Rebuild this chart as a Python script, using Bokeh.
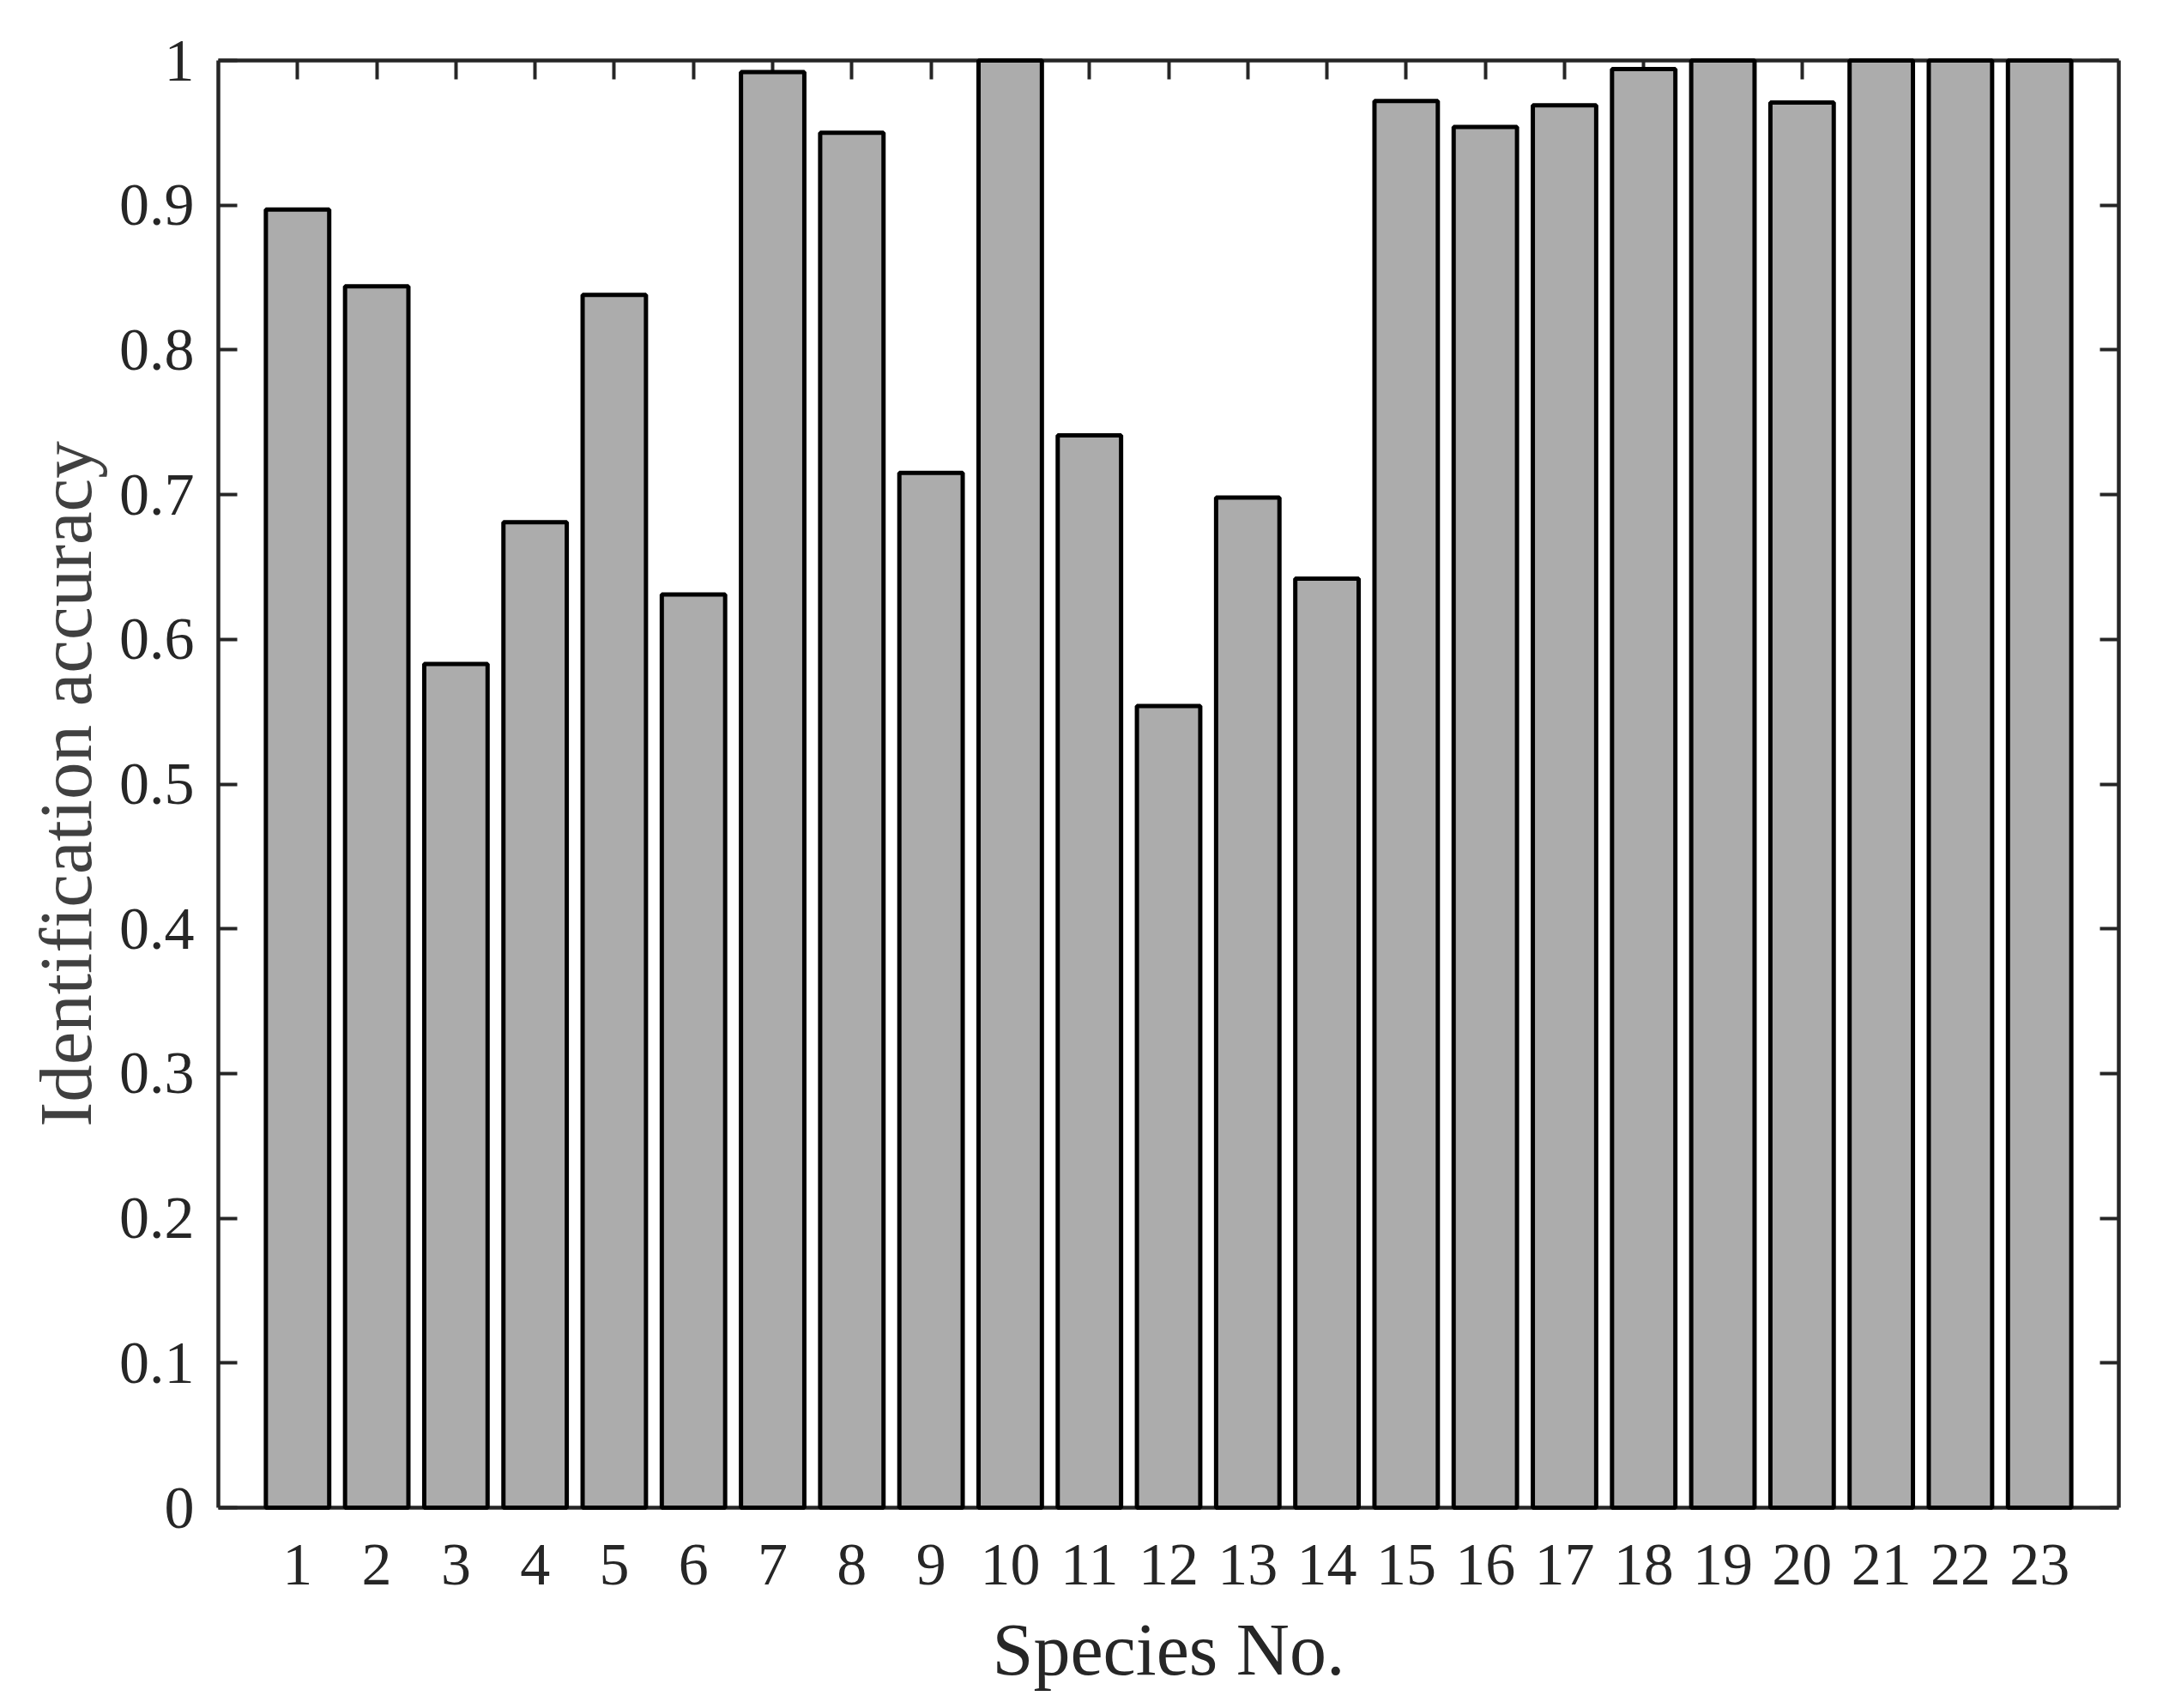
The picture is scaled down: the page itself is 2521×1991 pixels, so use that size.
from bokeh.plotting import figure
from bokeh.models import ColumnDataSource, Range1d, LinearAxis, FixedTicker, CustomJSTickFormatter
from bokeh.embed import file_html
from bokeh.resources import INLINE

species = list(range(1, 24))
accuracy = [0.897, 0.844, 0.583, 0.681, 0.838, 0.631, 0.992, 0.950, 0.715, 1.0,
            0.741, 0.554, 0.698, 0.642, 0.972, 0.954, 0.969, 0.994, 1.0, 0.971,
            1.0, 1.0, 1.0]
y_ticks = [0.0, 0.1, 0.2, 0.3, 0.4, 0.5, 0.6, 0.7, 0.8, 0.9, 1.0]
x_ticks = species
x_title = "Species No."
y_title = "Identification accuracy"

FONT = "Liberation Serif"
AX = "#262626"

p = figure(frame_width=2215, frame_height=1687,
           min_border_left=254, min_border_right=36, min_border_top=70, min_border_bottom=218,
           x_range=Range1d(0, 24), y_range=Range1d(0, 1),
           output_backend="svg", toolbar_location=None, tools="")
p.xgrid.visible = False
p.ygrid.visible = False
p.outline_line_color = None
p.background_fill_color = "white"
p.border_fill_color = "white"

src = ColumnDataSource(dict(x=species, top=accuracy))
r = p.vbar(x="x", top="top", bottom=0, width=0.8, source=src,
           fill_color="#ACACAC", line_color="black", line_width=5)
r.level = "overlay"

fmt = CustomJSTickFormatter(code="return tick.toFixed(1).replace(/\\.0$/, '');")

def style(ax, labels=True):
    ax.axis_line_color = AX
    ax.axis_line_width = 4.5
    ax.major_tick_line_color = AX
    ax.major_tick_line_width = 4
    ax.major_tick_in = 22
    ax.major_tick_out = 0
    ax.minor_tick_line_color = None
    ax.major_label_text_font = FONT
    ax.major_label_text_font_size = "70px"
    ax.major_label_text_color = AX
    ax.axis_label_text_font = FONT
    ax.axis_label_text_font_style = "normal"
    if not labels:
        ax.major_label_text_font_size = "0px"
        ax.major_label_text_color = None
        ax.major_label_standoff = 0

xa = p.xaxis[0]
style(xa)
xa.ticker = FixedTicker(ticks=x_ticks)
xa.major_label_standoff = 43
xa.axis_label = x_title
xa.axis_label_text_color = AX
xa.axis_label_text_font_size = "86px"
xa.axis_label_standoff = 25

ya = p.yaxis[0]
style(ya)
ya.ticker = FixedTicker(ticks=y_ticks)
ya.formatter = fmt
ya.axis_label = y_title
ya.axis_label_text_color = "#404040"
ya.axis_label_text_font_size = "87px"
ya.major_label_standoff = 28
ya.axis_label_standoff = 11

top = LinearAxis(ticker=FixedTicker(ticks=x_ticks))
style(top, labels=False)
p.add_layout(top, "above")

right = LinearAxis(ticker=FixedTicker(ticks=y_ticks))
style(right, labels=False)
p.add_layout(right, "right")

open("out.html", "w").write(file_html(p, INLINE))
